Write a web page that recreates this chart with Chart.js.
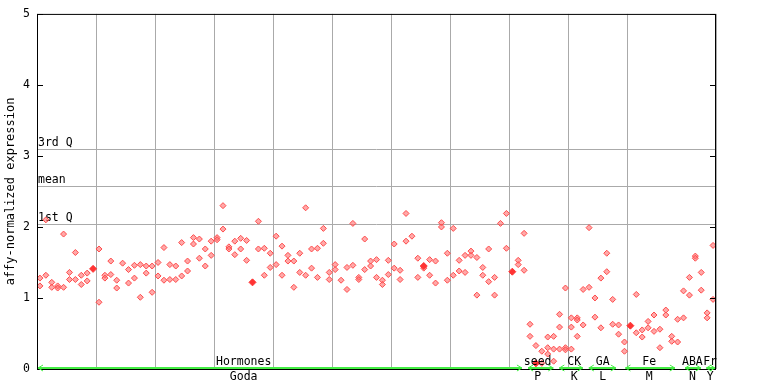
<!DOCTYPE html>
<html>
<head>
<meta charset="utf-8">
<script src="https://cdn.jsdelivr.net/npm/chart.js@4.4.1/dist/chart.umd.min.js"></script>
<style>
  html, body { margin: 0; padding: 0; background: #fff; }
  #wrap { width: 768px; height: 384px; }
</style>
</head>
<body>
<div id="wrap"><canvas id="chart" width="768" height="384"></canvas></div>
<script>
// expression values per sample position (replicates)
const sampleValues = [
  [1.28, 1.17], [2.10, 1.32], [1.22, 1.15], [1.17, 1.14], [1.90, 1.15],
  [1.36, 1.26], [1.64, 1.26], [1.32, 1.19], [1.35, 1.24], [],
  [1.69, 0.94], [1.32, 1.28], [1.52, 1.33], [1.25, 1.14], [1.49],
  [1.40, 1.21], [1.46, 1.28], [1.47, 1.01], [1.45, 1.35], [1.45, 1.08],
  [1.50, 1.31], [1.71, 1.25], [1.47, 1.26], [1.45, 1.26], [1.78, 1.31],
  [1.52, 1.38], [1.85, 1.76], [1.83, 1.56], [1.69, 1.45], [1.80, 1.60],
  [1.85, 1.82], [2.30, 1.97], [1.72, 1.69], [1.80, 1.61], [1.84, 1.69],
  [1.81, 1.53], [], [2.08, 1.69], [1.70, 1.32], [1.63, 1.43],
  [1.87, 1.47], [1.73, 1.32], [1.60, 1.52], [1.52, 1.15], [1.63, 1.36],
  [2.27, 1.32], [1.69, 1.42], [1.70, 1.29], [1.98, 1.77], [1.36, 1.26],
  [1.47, 1.40], [1.25], [1.43, 1.12], [2.05, 1.46], [1.29, 1.26],
  [1.83, 1.40], [1.52, 1.45], [1.54, 1.29], [1.25, 1.19], [1.53, 1.33],
  [1.76, 1.42], [1.39, 1.26], [2.19, 1.80], [1.87], [1.56, 1.29],
  [1.42], [1.54, 1.32], [1.52, 1.21], [2.06, 2.00], [1.63, 1.25],
  [1.98, 1.32], [1.53, 1.38], [1.60, 1.36], [1.66, 1.60], [1.57, 1.04],
  [1.43, 1.32], [1.69, 1.23], [1.29, 1.04], [2.05], [2.19, 1.70],
  [], [1.53, 1.47], [1.91, 1.39], [0.63, 0.46], [0.33],
  [0.25, 0.08], [0.45, 0.30, 0.21], [0.46, 0.28, 0.11], [0.77, 0.59, 0.28], [1.14, 0.30, 0.27],
  [0.72, 0.59, 0.28], [0.72, 0.69, 0.46], [1.12, 0.62], [1.99, 1.15], [1.00, 0.73],
  [1.28, 0.58], [1.63, 1.37], [0.98, 0.63], [0.62, 0.49], [0.38, 0.25],
  [], [1.05, 0.51], [0.55, 0.45], [0.67, 0.58], [0.76, 0.53],
  [0.56, 0.30], [0.83, 0.76], [0.46, 0.39], [0.70, 0.38], [1.10, 0.72],
  [1.29, 1.04], [1.59, 1.56], [1.36, 1.11], [0.79, 0.72], [1.74, 0.98]
];

// filled (control) markers
const controlIdx = [9, 36, 65, 80, 84, 100];
const controlVal = [1.41, 1.22, 1.45, 1.37, 0.08, 0.61];

// reference lines
const refLabels = ['1st Q', 'mean', '3rd Q'];
const refValues = [2.04, 2.58, 3.10];

// sample groups along the x axis
const groupTop = ['Hormones', 'seed', 'CK', 'GA', 'Fe', 'ABA', 'Fr'];
const groupBottom = ['Goda', 'P', 'K', 'L', 'M', 'N', 'Y'];
const groupStart = [0, 83, 88.3, 93.3, 99.5, 109.6, 113.2];
const groupEnd = [82.3, 87.6, 92.6, 98.2, 108.2, 112.6, 115];
const groupLabelAt = [35, 84.8, 91, 95.8, 103.7, 111, 114];

const yTicks = [0, 1, 2, 3, 4, 5];
const nPositions = sampleValues.length;

const FONT = '"DejaVu Sans Mono", "Liberation Mono", monospace';

const samplePoints = [];
sampleValues.forEach((vals, i) => {
  vals.forEach(v => samplePoints.push({ x: i + 0.5, y: v }));
});
const controlPoints = controlIdx.map((i, k) => ({ x: i + 0.5, y: controlVal[k] }));

const decorations = {
  id: 'decorations',
  beforeDatasetsDraw(chart) {
    const { ctx, chartArea: a, scales: { x, y } } = chart;
    ctx.save();
    // quartile / mean lines
    ctx.strokeStyle = '#aaaaaa';
    ctx.lineWidth = 1;
    refValues.forEach(v => {
      const py = Math.round(y.getPixelForValue(v)) + 0.5;
      ctx.beginPath();
      ctx.moveTo(a.left, py);
      ctx.lineTo(a.right, py);
      ctx.stroke();
    });
    ctx.fillStyle = '#000';
    ctx.font = '11.5px ' + FONT;
    ctx.textAlign = 'left';
    ctx.textBaseline = 'alphabetic';
    refValues.forEach((v, k) => {
      const py = Math.round(y.getPixelForValue(v));
      ctx.fillText(refLabels[k], a.left + 1, py - 3);
    });
    ctx.restore();
  },
  afterDraw(chart) {
    const { ctx, chartArea: a, scales: { x, y } } = chart;
    ctx.save();
    // frame
    ctx.strokeStyle = '#000';
    ctx.lineWidth = 1;
    ctx.strokeRect(a.left + 0.5, a.top + 0.5, a.right - a.left - 1, a.bottom - a.top);
    // inward ticks on both sides
    yTicks.forEach(t => {
      const py = Math.round(y.getPixelForValue(t)) + 0.5;
      ctx.beginPath();
      ctx.moveTo(a.left, py); ctx.lineTo(a.left + 6, py);
      ctx.moveTo(a.right - 6, py); ctx.lineTo(a.right, py);
      ctx.stroke();
    });
    // group arrows
    const gy = a.bottom - 1;
    ctx.strokeStyle = '#44ee44';
    ctx.lineWidth = 2;
    groupStart.forEach((s, k) => {
      const x0 = x.getPixelForValue(s) + 1;
      const x1 = x.getPixelForValue(groupEnd[k]) - 1;
      ctx.beginPath();
      ctx.moveTo(x0, gy); ctx.lineTo(x1, gy);
      ctx.stroke();
      ctx.lineWidth = 1;
      ctx.beginPath();
      ctx.moveTo(x0 + 5, gy - 3); ctx.lineTo(x0, gy); ctx.lineTo(x0 + 5, gy + 3);
      ctx.moveTo(x1 - 5, gy - 3); ctx.lineTo(x1, gy); ctx.lineTo(x1 - 5, gy + 3);
      ctx.stroke();
      ctx.lineWidth = 2;
    });
    // group labels
    ctx.fillStyle = '#000';
    ctx.font = '11.5px ' + FONT;
    ctx.textAlign = 'center';
    ctx.textBaseline = 'middle';
    groupLabelAt.forEach((p, k) => {
      const px = x.getPixelForValue(p);
      ctx.fillText(groupTop[k], px, a.bottom - 7);
      ctx.fillText(groupBottom[k], px, a.bottom + 8);
    });
    ctx.restore();
  }
};

new Chart(document.getElementById('chart'), {
  type: 'scatter',
  data: {
    datasets: [
      {
        data: controlPoints,
        pointStyle: 'rectRot',
        pointRadius: 3.5,
        backgroundColor: '#ff3333',
        borderColor: '#ff3333',
        borderWidth: 1
      },
      {
        data: samplePoints,
        pointStyle: 'rectRot',
        pointRadius: 3,
        backgroundColor: 'rgba(255,110,110,0.6)',
        borderColor: '#ff4a4a',
        borderWidth: 1
      }
    ]
  },
  options: {
    responsive: false,
    animation: false,
    devicePixelRatio: 1,
    layout: { padding: { left: 0, right: 52, top: 13, bottom: 15 } },
    plugins: { legend: { display: false }, tooltip: { enabled: false } },
    scales: {
      x: {
        type: 'linear',
        min: 0,
        max: nPositions,
        grid: { color: '#aaaaaa', lineWidth: 1, drawTicks: false },
        border: { display: false },
        ticks: { display: false, stepSize: 10 },
        afterFit: s => { s.height = 0; }
      },
      y: {
        min: 0,
        max: 5,
        grid: { display: false, drawTicks: false },
        border: { display: false },
        ticks: {
          stepSize: 1,
          padding: 7,
          color: '#000',
          font: { family: FONT, size: 11.5 }
        },
        title: {
          display: true,
          text: 'affy-normalized expression',
          color: '#000',
          font: { family: FONT, size: 12 },
          padding: { top: 4, bottom: 0 }
        },
        afterFit: s => { s.width = 37; }
      }
    }
  },
  plugins: [decorations]
});
</script>
</body>
</html>
